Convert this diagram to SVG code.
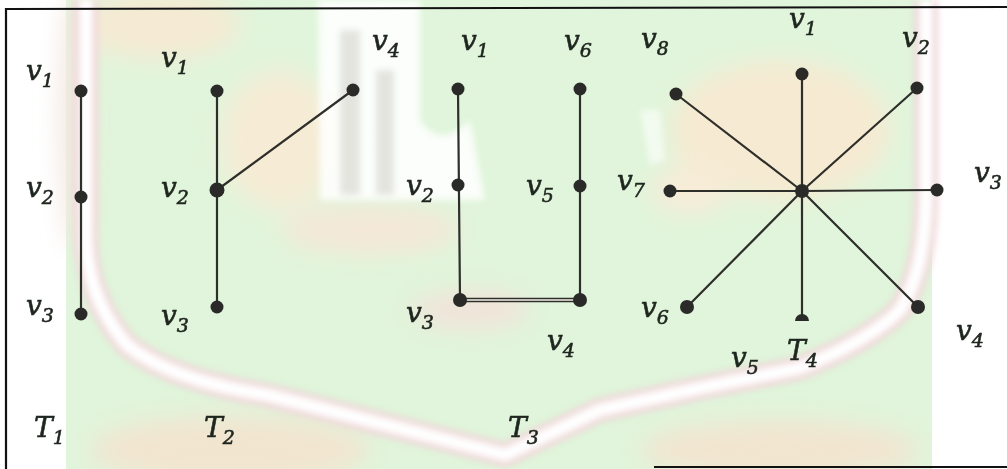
<svg xmlns="http://www.w3.org/2000/svg" width="1007" height="469" viewBox="0 0 1007 469">
<style>
.lbl{font-family:"DejaVu Serif","Liberation Serif",serif;font-style:italic;font-size:28px;fill:#1f261f;stroke:#1f261f;stroke-width:0.6}
.sub{font-size:19px}
.edge{stroke:#2e2e2a;stroke-width:2.2;fill:none;stroke-linecap:round}
.node{fill:#2a2a28}
.frame{stroke:#111;stroke-width:2.2;fill:none}
</style>
<defs>
<filter id="blur" x="-30%" y="-30%" width="160%" height="160%"><feGaussianBlur stdDeviation="12"/></filter>
<filter id="soft" x="-10%" y="-10%" width="120%" height="120%"><feGaussianBlur stdDeviation="3"/></filter>
</defs>
<g id="watermark">
<rect x="0" y="0" width="1007" height="469" fill="#ffffff"/>
<rect x="66" y="0" width="866" height="469" fill="#e0f5db"/>
<g filter="url(#blur)">
<ellipse cx="160" cy="25" rx="80" ry="35" fill="#f5ead3"/>
<ellipse cx="280" cy="140" rx="60" ry="70" fill="#f6ecd6"/>
<ellipse cx="370" cy="230" rx="90" ry="25" fill="#f4e8d8"/>
<ellipse cx="780" cy="130" rx="110" ry="70" fill="#f6ead2"/>
<ellipse cx="690" cy="190" rx="40" ry="25" fill="#f7ecd8"/>
<ellipse cx="230" cy="450" rx="140" ry="35" fill="#f2e5d0"/>
<ellipse cx="780" cy="450" rx="140" ry="30" fill="#f2e5d0"/>
<ellipse cx="470" cy="310" rx="60" ry="20" fill="#f1e4d9"/>
<ellipse cx="75" cy="120" rx="15" ry="130" fill="#f3e6e0"/>
</g>
<g filter="url(#soft)">
<path d="M318,0 L420,0 L420,120 Q440,150 470,120 L485,200 L320,200 Z" fill="#ffffff" opacity="0.85"/>
<rect x="340" y="30" width="20" height="165" fill="#e4e4df"/>
<rect x="376" y="70" width="18" height="125" fill="#e4e4df"/>
<path d="M640,110 L660,110 L665,160 L650,165 Z" fill="#ffffff" opacity="0.6"/>
</g>
<g filter="url(#soft)">
<path d="M86,0 L86,240 Q88,300 127,345 Q170,380 267,395 L505,455 L600,410 L700,388 L800,368 Q870,340 900,310 Q925,270 926,200 L926,0" fill="none" stroke="#efd6d8" stroke-width="24"/>
<path d="M86,0 L86,240 Q88,300 127,345 Q170,380 267,395 L505,455 L600,410 L700,388 L800,368 Q870,340 900,310 Q925,270 926,200 L926,0" fill="none" stroke="#ffffff" stroke-width="13"/>
</g>
</g>
<g id="frame">
<path class="frame" d="M6,469 L6,9 L1007,7"/>
<path class="frame" d="M654,467 L1007,467"/>
</g>
<g id="connectors">
<line class="edge" x1="81" y1="91" x2="81" y2="314"/>
<line class="edge" x1="217" y1="91" x2="217" y2="307"/>
<line class="edge" x1="217" y1="190" x2="353" y2="90"/>
<line class="edge" x1="458" y1="89" x2="460" y2="300"/>
<line class="edge" x1="580" y1="89" x2="580" y2="300"/>
<line x1="460" y1="300" x2="580" y2="300" stroke="#2e2e2a" stroke-width="4.5"/>
<line x1="462" y1="300" x2="578" y2="300" stroke="#f4efe8" stroke-width="1.3"/>
<line class="edge" x1="802" y1="191" x2="802" y2="74"/>
<line class="edge" x1="802" y1="191" x2="917" y2="88"/>
<line class="edge" x1="802" y1="191" x2="937" y2="190"/>
<line class="edge" x1="802" y1="191" x2="918" y2="307"/>
<line class="edge" x1="802" y1="191" x2="802" y2="320"/>
<line class="edge" x1="802" y1="191" x2="687" y2="307"/>
<line class="edge" x1="802" y1="191" x2="670" y2="191"/>
<line class="edge" x1="802" y1="191" x2="676" y2="94"/>
</g>
<g id="T1">
<circle class="node" cx="81" cy="91" r="6.5"/>
<circle class="node" cx="81" cy="197" r="6.5"/>
<circle class="node" cx="81" cy="314" r="6.5"/>
<text class="lbl" x="26" y="80">v<tspan class="sub" dy="7">1</tspan></text>
<text class="lbl" x="26" y="197">v<tspan class="sub" dy="7">2</tspan></text>
<text class="lbl" x="26" y="315">v<tspan class="sub" dy="7">3</tspan></text>
<text class="lbl" x="34" y="437">T<tspan class="sub" dy="7">1</tspan></text>
</g>
<g id="T2">
<circle class="node" cx="217" cy="91" r="6.5"/>
<circle class="node" cx="217" cy="190" r="7.5"/>
<circle class="node" cx="217" cy="307" r="6.5"/>
<circle class="node" cx="353" cy="90" r="6.5"/>
<text class="lbl" x="161" y="67">v<tspan class="sub" dy="7">1</tspan></text>
<text class="lbl" x="161" y="197">v<tspan class="sub" dy="7">2</tspan></text>
<text class="lbl" x="161" y="325">v<tspan class="sub" dy="7">3</tspan></text>
<text class="lbl" x="372" y="50">v<tspan class="sub" dy="7">4</tspan></text>
<text class="lbl" x="204" y="437">T<tspan class="sub" dy="7">2</tspan></text>
</g>
<g id="T3">
<circle class="node" cx="458" cy="89" r="6.5"/>
<circle class="node" cx="458" cy="185" r="6.5"/>
<circle class="node" cx="460" cy="300" r="7"/>
<circle class="node" cx="580" cy="300" r="7"/>
<circle class="node" cx="580" cy="186" r="6.5"/>
<circle class="node" cx="580" cy="89" r="6.5"/>
<text class="lbl" x="461" y="50">v<tspan class="sub" dy="7">1</tspan></text>
<text class="lbl" x="564" y="50">v<tspan class="sub" dy="7">6</tspan></text>
<text class="lbl" x="406" y="195">v<tspan class="sub" dy="7">2</tspan></text>
<text class="lbl" x="526" y="195">v<tspan class="sub" dy="7">5</tspan></text>
<text class="lbl" x="406" y="322">v<tspan class="sub" dy="7">3</tspan></text>
<text class="lbl" x="547" y="350">v<tspan class="sub" dy="7">4</tspan></text>
<text class="lbl" x="508" y="437">T<tspan class="sub" dy="7">3</tspan></text>
</g>
<g id="T4">
<circle class="node" cx="802" cy="191" r="7"/>
<circle class="node" cx="802" cy="74" r="6.5"/>
<circle class="node" cx="917" cy="88" r="6.5"/>
<circle class="node" cx="937" cy="190" r="6.5"/>
<circle class="node" cx="918" cy="307" r="7"/>
<path class="node" d="M795,321 A7,7 0 0 1 809,321 Z"/>
<circle class="node" cx="687" cy="307" r="7"/>
<circle class="node" cx="670" cy="191" r="6.5"/>
<circle class="node" cx="676" cy="94" r="6.5"/>
<text class="lbl" x="789" y="28">v<tspan class="sub" dy="7">1</tspan></text>
<text class="lbl" x="902" y="47">v<tspan class="sub" dy="7">2</tspan></text>
<text class="lbl" x="974" y="182">v<tspan class="sub" dy="7">3</tspan></text>
<text class="lbl" x="956" y="340">v<tspan class="sub" dy="7">4</tspan></text>
<text class="lbl" x="731" y="367">v<tspan class="sub" dy="7">5</tspan></text>
<text class="lbl" x="641" y="317">v<tspan class="sub" dy="7">6</tspan></text>
<text class="lbl" x="617" y="190">v<tspan class="sub" dy="7">7</tspan></text>
<text class="lbl" x="641" y="48">v<tspan class="sub" dy="7">8</tspan></text>
<text class="lbl" x="787" y="360">T<tspan class="sub" dy="7">4</tspan></text>
</g>
</svg>
